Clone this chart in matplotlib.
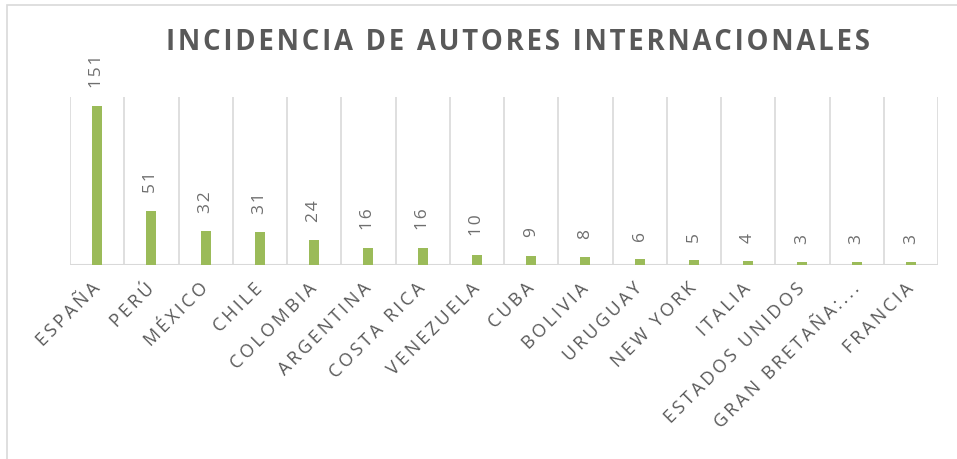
import matplotlib
matplotlib.use("Agg")
import matplotlib.pyplot as plt
from matplotlib.patches import Rectangle

categories = ["ESPAÑA", "PERÚ", "MÉXICO", "CHILE", "COLOMBIA", "ARGENTINA",
              "COSTA RICA", "VENEZUELA", "CUBA", "BOLIVIA", "URUGUAY",
              "NEW YORK", "ITALIA", "ESTADOS UNIDOS", "GRAN BRETAÑA:...", "FRANCIA"]
values = [151, 51, 32, 31, 24, 16, 16, 10, 9, 8, 6, 5, 4, 3, 3, 3]
title = "INCIDENCIA DE AUTORES INTERNACIONALES"

W, H = 957, 459
fig = plt.figure(figsize=(W / 100, H / 100), dpi=100)
fig.patch.set_facecolor("white")

def spaced(s, sep="\u2009"):
    return sep.join(s)

# outer chart border
fig.add_artist(Rectangle((7 / W, -0.05), 1.2, 1 - 5 / H + 0.05,
                         transform=fig.transFigure, fill=False,
                         edgecolor="#d9d9d9", linewidth=1.2))

ax = fig.add_axes([70 / W, 1 - 265 / H, (938 - 70) / W, (265 - 97) / H])
n = len(categories)
x = list(range(n))
ax.bar(x, values, width=0.18, color="#9BBB59", zorder=3)
ax.set_xlim(-0.5, n - 0.5)
ax.set_ylim(0, 160)

for i in range(n + 1):
    ax.axvline(i - 0.5, color="#d9d9d9", linewidth=1.2, zorder=1)
ax.axhline(0, color="#d9d9d9", linewidth=1.5, zorder=2)

for s in ax.spines.values():
    s.set_visible(False)
ax.set_yticks([])
ax.set_xticks(x)
ax.tick_params(axis="x", length=0, pad=15)
ax.set_xticklabels([spaced(c) for c in categories],
                   rotation=45, ha="right", va="center", rotation_mode="anchor",
                   fontsize=13, color="#595959", fontfamily="Open Sans")

for xi, v in zip(x, values):
    ax.annotate(spaced(str(v), "\u200a"), (xi, v), xytext=(0, 13),
                textcoords="offset points",
                rotation=90, ha="center", va="bottom", fontsize=12.5,
                color="#6e6e6e", fontfamily="Open Sans")

fig.text(518 / W, 1 - 43 / H, spaced(title, "\u200a"), ha="center", va="center",
         fontsize=19.8, fontweight="bold", color="#595959", fontfamily="Open Sans")

fig.savefig("out.png", dpi=100)
